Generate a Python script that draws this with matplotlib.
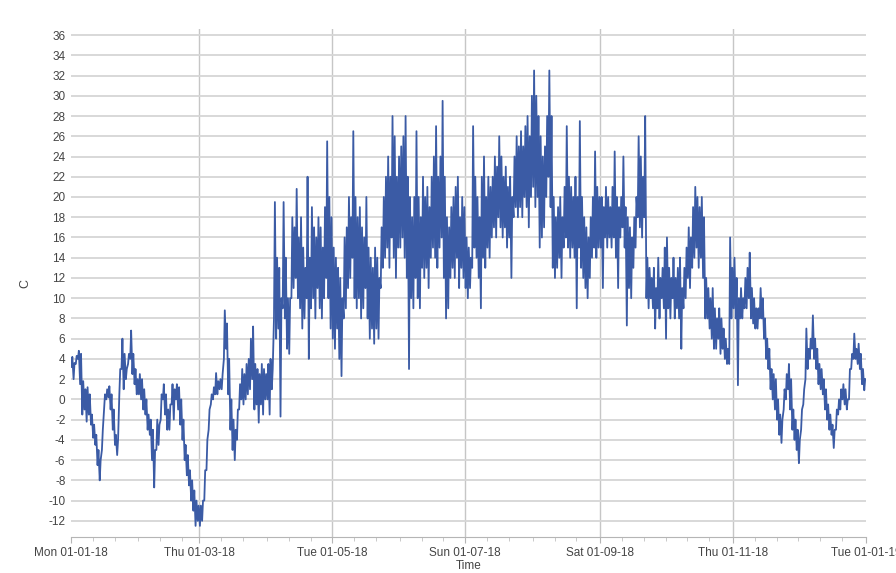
import numpy as np
import matplotlib
matplotlib.use('Agg')
import matplotlib.pyplot as plt
import matplotlib.dates as mdates

# daily high / low temperatures (C), month by month
jan_hi = [4.2, 3.6, 4.3, 4.8, 4.5, 1.8, 1.0, 1.2, 0.5, -1.5,
          -2.5, -3.5, -5.0, -6.0, -3.0, 0.5, 1.0, 1.3, 0.5, -1.0,
          -3.5, -4.0, 3.0, 6.0, 4.5, 3.0, 4.5, 6.8, 4.5, 3.0, 2.0]
jan_lo = [3.2, 2.0, 3.5, 4.0, 1.5, -1.5, -1.0, -2.2, -1.5, -2.5,
          -3.8, -4.5, -6.5, -8.0, -5.0, -1.0, 0.0, 0.2, -1.0, -3.0,
          -4.5, -5.5, 0.5, 3.0, 1.0, 2.0, 3.5, 4.0, 2.5, 1.5, 0.5]
feb_hi = [2.5, 2.0, 1.0, 0.0, -1.5, -2.0, -3.0, -5.0, -2.0, -2.5,
          0.5, 1.5, 0.5, -1.0, -0.5, 1.5, 1.0, 1.5, 1.2, 0.0,
          -2.0, -4.5, -5.5, -7.0, -8.0, -9.0, -10.0, -10.5]
feb_lo = [0.5, 0.0, -1.0, -1.5, -3.0, -3.5, -6.0, -8.7, -5.0, -4.5,
          -2.0, 0.0, -1.5, -3.0, -3.0, -0.5, -2.0, 0.0, -1.0, -2.5,
          -4.0, -6.0, -7.5, -8.5, -10.0, -11.0, -12.5, -12.0]
mar_hi = [-10.5, -10.0, -7.0, -4.0, -1.0, 0.5, 1.2, 2.6, 1.8, 2.0,
          2.5, 8.8, 7.5, 4.0, 0.0, -2.0, -3.0, -1.0, 1.5, 3.0,
          2.5, 3.5, 4.0, 6.0, 7.2, 3.5, 3.0, 2.5, 3.5, 3.0, 2.5]
mar_lo = [-12.5, -12.0, -10.0, -7.0, -3.0, -0.5, 0.0, 0.5, 0.5, 1.0,
          1.0, 4.0, 5.0, 0.5, -3.0, -5.0, -6.0, -4.0, -1.0, 0.0,
          -0.5, 0.0, 0.5, 1.0, 2.0, -1.0, -0.5, -2.3, -0.5, -1.5, 0.0]
apr_hi = [3.5, 4.0, 3.0, 19.5, 14.0, 13.0, 10.0, 19.5, 14.0, 10.0,
          10.0, 18.0, 17.0, 20.8, 16.0, 18.0, 15.0, 13.0, 22.0, 14.0,
          19.0, 17.0, 16.0, 18.0, 17.0, 15.0, 19.0, 25.5, 20.0, 18.0]
apr_lo = [0.0, -1.5, 1.0, 8.0, 6.0, 7.0, -1.7, 9.0, 8.0, 5.0,
          4.5, 10.0, 11.0, 12.0, 10.0, 9.0, 7.0, 8.0, 10.0, 4.0,
          9.0, 10.0, 8.0, 11.0, 9.0, 8.0, 10.0, 12.0, 10.0, 7.0]
may_hi = [15, 14, 13, 12, 10, 16, 17, 20, 18, 26.5,
          20, 18, 19, 17, 16, 20, 15, 14, 13, 15,
          14, 12, 17, 20, 22, 24, 22, 28, 26, 22, 24]
may_lo = [6, 5, 7, 4, 2.3, 8, 9, 11, 12, 14,
          10, 9, 10, 8, 9, 11, 8, 6, 7, 5.5,
          7, 6, 11, 13, 14, 15, 13, 16, 14, 12, 15]
jun_hi = [25, 26, 28, 22, 20, 18, 20, 26.5, 20, 18,
          22, 20, 21, 19, 22, 24, 27, 22, 24, 29.5,
          22, 18, 17, 19, 20, 21, 22, 18, 20, 19]
jun_lo = [15, 16, 14, 12, 3, 10, 9, 12, 10, 9,
          13, 12, 13, 11, 14, 15, 14, 13, 15, 16,
          12, 8, 9, 12, 13, 12, 14, 11, 13, 12]
jul_hi = [16, 15, 14, 27, 22, 20, 18, 22, 24, 20,
          22, 21, 22, 24, 23, 26, 24, 22, 23, 21,
          22, 20, 24, 26, 25, 26.5, 25, 27, 28, 26, 30]
jul_lo = [11, 10, 11, 13, 15, 14, 12, 9, 14, 13,
          15, 14, 16, 17, 16, 18, 17, 16, 17, 15,
          16, 12, 18, 19, 18, 19, 18, 20, 19, 17, 20]
aug_hi = [32.5, 30, 28, 26, 24, 25, 28, 32.5, 28, 20,
          18, 19, 20, 18, 21, 27, 22, 21, 20, 22,
          20, 27.5, 20, 18, 17, 16, 18, 20, 24.5, 21, 20]
aug_lo = [21, 19, 20, 15, 16, 17, 20, 22, 19, 13,
          12, 13, 14, 12, 15, 16, 15, 14, 15, 14,
          9, 15, 13, 12, 11, 10, 12, 14, 15, 14, 15]
sep_hi = [20, 19, 21, 20, 19, 21, 24.5, 20, 19, 20,
          24, 19, 18, 17, 16, 18, 20, 26, 24, 22,
          28, 14, 13, 12, 13, 11, 14, 12, 13, 15]
sep_lo = [15, 11, 16, 15, 16, 15, 16, 14, 11, 16,
          17, 15, 7.3, 11, 10, 13, 15, 18, 17, 16,
          18, 10, 9, 10, 9, 7, 9, 8, 10, 9]
oct_hi = [16, 13, 12, 14, 12, 13, 14, 11, 13, 15,
          17, 16, 19, 21, 20, 19, 20, 18, 12, 11,
          10, 11, 9, 8, 9, 8, 7, 6, 5, 16, 13]
oct_lo = [6, 9, 8, 10, 8, 9, 8, 5, 9, 10,
          12, 11, 13, 14, 15, 13, 14, 12, 8, 8,
          7, 6, 5, 5, 6, 4.5, 5, 4, 3.5, 3.5, 8]
nov_hi = [14, 12, 10, 11, 10, 12, 13, 14.5, 11, 10,
          9, 9, 11, 10, 8, 6, 5, 3, 2.5, 2,
          0, -1.5, -2, 1, 2.5, 3.5, 2, -1, -2, -3]
nov_lo = [9, 8, 1.4, 8, 8, 9, 9, 10, 8, 7.5,
          7, 7, 8, 8, 6, 4, 3, 1, 0, -1,
          -2, -3.5, -4.3, -1, 0, 1, -1, -3, -4, -5]
dec_hi = [-4, -1, 1, 7, 5, 6, 8.3, 6, 5, 3.5,
          3, 2, 1, -0.5, -1.5, -2.5, -3, -1, 0, 1,
          1.5, 1, 0, 3, 4.5, 6.5, 5, 5.5, 4.5, 3, 2]
dec_lo = [-6.3, -3, -0.5, 2, 3, 4, 5, 4, 3, 1.5,
          1, 0.5, -1, -2, -3, -3.5, -4.8, -3, -1.5, -1,
          0, -0.5, -1, 0, 3, 4, 4, 3.5, 3, 1.5, 0.9]

highs = jan_hi + feb_hi + mar_hi + apr_hi + may_hi + jun_hi + jul_hi + aug_hi + sep_hi + oct_hi + nov_hi + dec_hi
lows = jan_lo + feb_lo + mar_lo + apr_lo + may_lo + jun_lo + jul_lo + aug_lo + sep_lo + oct_lo + nov_lo + dec_lo

days = np.arange('2018-01-01', '2019-01-01', dtype='datetime64[D]')
times = np.empty(2 * len(days), dtype='datetime64[h]')
times[0::2] = days + np.timedelta64(5, 'h')   # low around dawn
times[1::2] = days + np.timedelta64(15, 'h')  # high in the afternoon
temps = np.empty(2 * len(days))
temps[0::2] = lows
temps[1::2] = highs

plt.rcParams['font.family'] = ['Liberation Sans', 'DejaVu Sans']
plt.rcParams['axes.unicode_minus'] = False

fig = plt.figure(figsize=(8.96, 5.73), dpi=100)
ax = fig.add_axes([0.0792, 0.0628, 0.8873, 0.8866])

ax.plot(times.astype('datetime64[s]').astype(object), temps, color='#3b5ba5', lw=1.3)

ax.set_xlim(np.datetime64('2018-01-01').astype(object), np.datetime64('2019-01-01').astype(object))
ax.set_ylim(-13.6, 36.6)
ax.set_yticks(range(-12, 37, 2))

ax.xaxis.set_major_locator(mdates.MonthLocator(bymonth=[1, 3, 5, 7, 9, 11]))
ax.xaxis.set_major_formatter(mdates.DateFormatter('%a %d-%m-%y'))
ax.xaxis.set_minor_locator(mdates.DayLocator(bymonthday=[1, 11, 21]))

ax.yaxis.grid(True, color='#d6d6d6', lw=1.3)
ax.xaxis.grid(True, which='major', color='#c6c6c6', lw=1.0)
ax.set_axisbelow(True)
# no vertical grid line on the two outer edges
xgrid = ax.get_xgridlines()
xgrid[0].set_visible(False)
xgrid[-1].set_visible(False)

for s in ['left', 'top', 'right']:
    ax.spines[s].set_visible(False)
ax.spines['bottom'].set_color('#b5b5b5')

ax.tick_params(axis='y', length=0, pad=4, labelsize=8.5, labelcolor='#444444')
ax.tick_params(axis='x', which='major', length=4, color='#b5b5b5', pad=3, labelsize=8.5, labelcolor='#444444')
ax.tick_params(axis='x', which='minor', length=3, color='#c0c0c0')

ax.set_xlabel('Time', fontsize=8.5, color='#444444', labelpad=1)
ax.set_ylabel('C', fontsize=9, color='#444444', labelpad=12)

plt.savefig('out.png', dpi=100)
